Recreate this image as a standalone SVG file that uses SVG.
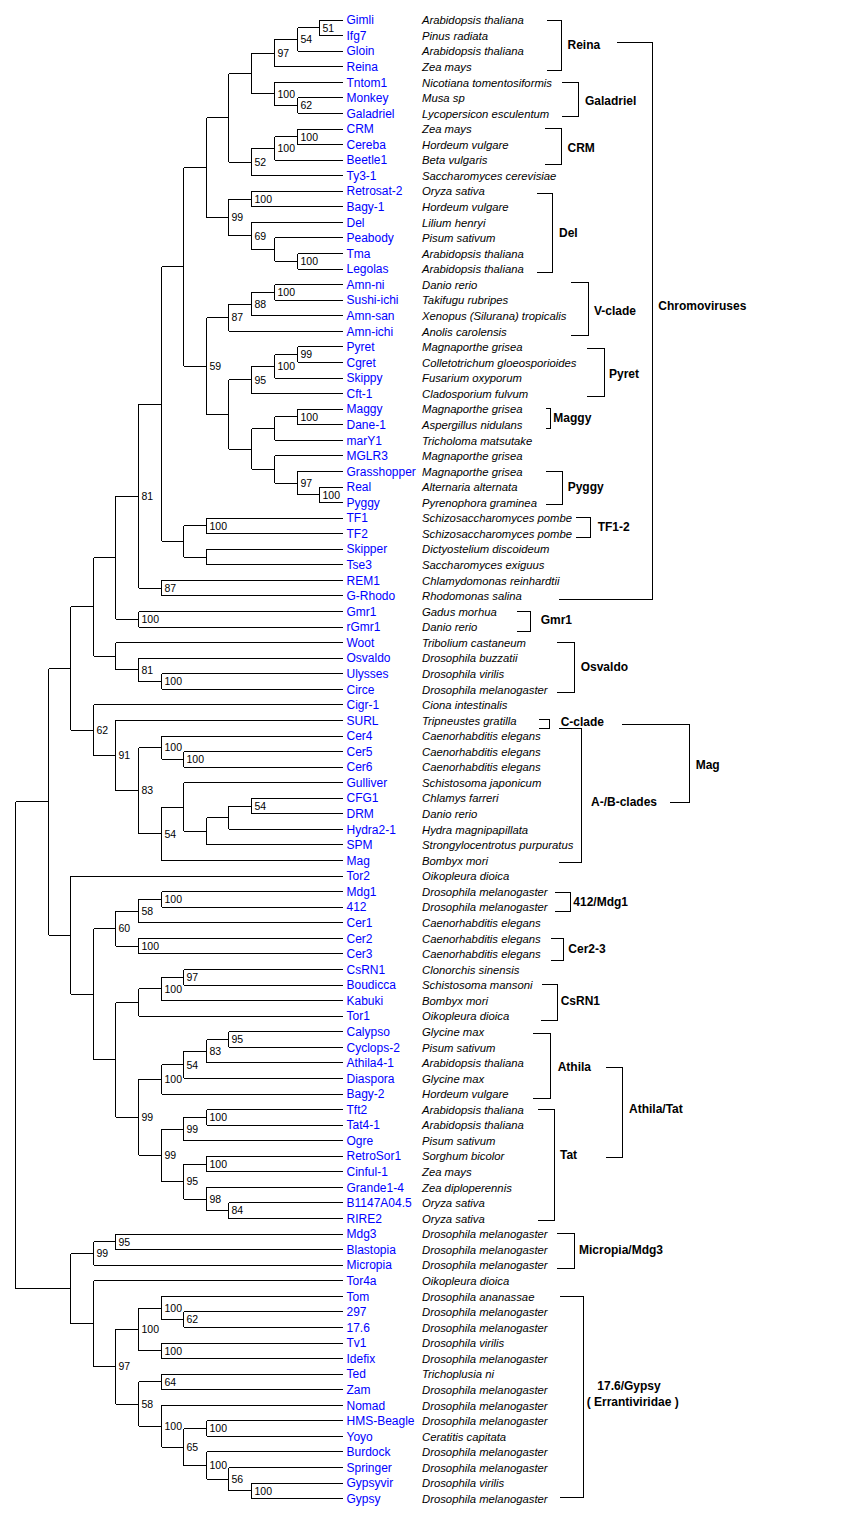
<svg xmlns="http://www.w3.org/2000/svg" width="842" height="1527" viewBox="0 0 842 1527">
<style>
.ln{fill:none;stroke:#000;stroke-width:1;shape-rendering:crispEdges}
.n{font-family:"Liberation Sans",Arial,sans-serif;font-size:12px;fill:#0000ff}
.s{font-family:"Liberation Sans",Arial,sans-serif;font-size:11.3px;font-style:italic;fill:#000}
.b{font-family:"Liberation Sans",Arial,sans-serif;font-size:10.5px;fill:#000}
.c{font-family:"Liberation Sans",Arial,sans-serif;font-size:12px;font-weight:bold;fill:#000}
</style>
<rect width="842" height="1527" fill="#fff"/>
<g id="connectors" class="ln">
<path d="M319.5 20V35.6 M319.5 20H343 M319.5 35.6H343
M297.5 27.8V51.1 M297.5 27.8H319.5 M297.5 51.1H343
M274.5 39.45V66.7 M274.5 39.45H297.5 M274.5 66.7H343
M297.5 97.8V113.4 M297.5 97.8H343 M297.5 113.4H343
M274.5 82.3V105.6 M274.5 82.3H343 M274.5 105.6H297.5
M251.5 53.1V93.95 M251.5 53.1H274.5 M251.5 93.95H274.5
M297.5 129V144.5 M297.5 129H343 M297.5 144.5H343
M274.5 136.75V160.1 M274.5 136.75H297.5 M274.5 160.1H343
M251.5 148.4V175.7 M251.5 148.4H274.5 M251.5 175.7H343
M228.5 73.5V162.05 M228.5 73.5H251.5 M228.5 162.05H251.5
M251.5 191.2V206.8 M251.5 191.2H343 M251.5 206.8H343
M297.5 253.5V269 M297.5 253.5H343 M297.5 269H343
M274.5 237.9V261.25 M274.5 237.9H343 M274.5 261.25H297.5
M251.5 222.3V249.6 M251.5 222.3H343 M251.5 249.6H274.5
M228.5 199V235.95 M228.5 199H251.5 M228.5 235.95H251.5
M206.5 117.8V217.5 M206.5 117.8H228.5 M206.5 217.5H228.5
M274.5 284.6V300.2 M274.5 284.6H343 M274.5 300.2H343
M251.5 292.4V315.7 M251.5 292.4H274.5 M251.5 315.7H343
M228.5 304.05V331.3 M228.5 304.05H251.5 M228.5 331.3H343
M297.5 346.9V362.4 M297.5 346.9H343 M297.5 362.4H343
M274.5 354.65V378 M274.5 354.65H297.5 M274.5 378H343
M251.5 366.3V393.6 M251.5 366.3H274.5 M251.5 393.6H343
M297.5 409.1V424.7 M297.5 409.1H343 M297.5 424.7H343
M274.5 416.9V440.3 M274.5 416.9H297.5 M274.5 440.3H343
M319.5 487V502.5 M319.5 487H343 M319.5 502.5H343
M297.5 471.4V494.75 M297.5 471.4H343 M297.5 494.75H319.5
M274.5 455.8V483.1 M274.5 455.8H343 M274.5 483.1H297.5
M251.5 428.6V469.45 M251.5 428.6H274.5 M251.5 469.45H274.5
M228.5 379.95V449 M228.5 379.95H251.5 M228.5 449H251.5
M206.5 317.7V414.5 M206.5 317.7H228.5 M206.5 414.5H228.5
M183.5 167.65V366.1 M183.5 167.65H206.5 M183.5 366.1H206.5
M206.5 518.1V533.6 M206.5 518.1H343 M206.5 533.6H343
M206.5 549.2V564.8 M206.5 549.2H343 M206.5 564.8H343
M183.5 525.85V557 M183.5 525.85H206.5 M183.5 557H206.5
M161.5 266.9V541.4 M161.5 266.9H183.5 M161.5 541.4H183.5
M161.5 580.3V595.9 M161.5 580.3H343 M161.5 595.9H343
M138.5 404.15V588.1 M138.5 404.15H161.5 M138.5 588.1H161.5
M138.5 611.5V627 M138.5 611.5H343 M138.5 627H343
M115.5 496.1V619.25 M115.5 496.1H138.5 M115.5 619.25H138.5
M161.5 673.7V689.3 M161.5 673.7H343 M161.5 689.3H343
M138.5 658.2V681.5 M138.5 658.2H343 M138.5 681.5H161.5
M115.5 642.6V669.85 M115.5 642.6H343 M115.5 669.85H138.5
M93.5 557.7V656.2 M93.5 557.7H115.5 M93.5 656.2H115.5
M183.5 751.6V767.1 M183.5 751.6H343 M183.5 767.1H343
M161.5 736V759.35 M161.5 736H343 M161.5 759.35H183.5
M251.5 798.2V813.8 M251.5 798.2H343 M251.5 813.8H343
M228.5 806V829.4 M228.5 806H251.5 M228.5 829.4H343
M206.5 817.7V844.9 M206.5 817.7H228.5 M206.5 844.9H343
M183.5 782.7V831.3 M183.5 782.7H343 M183.5 831.3H206.5
M161.5 807V860.5 M161.5 807H183.5 M161.5 860.5H343
M138.5 747.7V833.75 M138.5 747.7H161.5 M138.5 833.75H161.5
M115.5 720.4V790.7 M115.5 720.4H343 M115.5 790.7H138.5
M93.5 704.9V755.55 M93.5 704.9H343 M93.5 755.55H115.5
M70.5 606.95V730.2 M70.5 606.95H93.5 M70.5 730.2H93.5
M161.5 891.6V907.2 M161.5 891.6H343 M161.5 907.2H343
M138.5 899.4V922.8 M138.5 899.4H161.5 M138.5 922.8H343
M138.5 938.3V953.9 M138.5 938.3H343 M138.5 953.9H343
M115.5 911.1V946.1 M115.5 911.1H138.5 M115.5 946.1H138.5
M183.5 969.5V985 M183.5 969.5H343 M183.5 985H343
M161.5 977.25V1000.6 M161.5 977.25H183.5 M161.5 1000.6H343
M138.5 988.9V1016.1 M138.5 988.9H161.5 M138.5 1016.1H343
M228.5 1031.7V1047.3 M228.5 1031.7H343 M228.5 1047.3H343
M206.5 1039.5V1062.8 M206.5 1039.5H228.5 M206.5 1062.8H343
M183.5 1051.15V1078.4 M183.5 1051.15H206.5 M183.5 1078.4H343
M161.5 1064.8V1094 M161.5 1064.8H183.5 M161.5 1094H343
M206.5 1109.5V1125.1 M206.5 1109.5H343 M206.5 1125.1H343
M183.5 1117.3V1140.7 M183.5 1117.3H206.5 M183.5 1140.7H343
M206.5 1156.2V1171.8 M206.5 1156.2H343 M206.5 1171.8H343
M228.5 1202.9V1218.5 M228.5 1202.9H343 M228.5 1218.5H343
M206.5 1187.4V1210.7 M206.5 1187.4H343 M206.5 1210.7H228.5
M183.5 1164V1199.05 M183.5 1164H206.5 M183.5 1199.05H206.5
M161.5 1129V1181.5 M161.5 1129H183.5 M161.5 1181.5H183.5
M138.5 1079.4V1155.25 M138.5 1079.4H161.5 M138.5 1155.25H161.5
M115.5 1002.5V1117.3 M115.5 1002.5H138.5 M115.5 1117.3H138.5
M93.5 928.6V1059.9 M93.5 928.6H115.5 M93.5 1059.9H115.5
M70.5 876.1V994.25 M70.5 876.1H343 M70.5 994.25H93.5
M48.5 668.6V935.2 M48.5 668.6H70.5 M48.5 935.2H70.5
M115.5 1234V1249.6 M115.5 1234H343 M115.5 1249.6H343
M93.5 1241.8V1265.2 M93.5 1241.8H115.5 M93.5 1265.2H343
M183.5 1311.9V1327.4 M183.5 1311.9H343 M183.5 1327.4H343
M161.5 1296.3V1319.65 M161.5 1296.3H343 M161.5 1319.65H183.5
M161.5 1343V1358.6 M161.5 1343H343 M161.5 1358.6H343
M138.5 1308V1350.8 M138.5 1308H161.5 M138.5 1350.8H161.5
M161.5 1374.1V1389.7 M161.5 1374.1H343 M161.5 1389.7H343
M206.5 1420.8V1436.4 M206.5 1420.8H343 M206.5 1436.4H343
M251.5 1483.1V1498.7 M251.5 1483.1H343 M251.5 1498.7H343
M228.5 1467.5V1490.9 M228.5 1467.5H343 M228.5 1490.9H251.5
M206.5 1451.9V1479.2 M206.5 1451.9H343 M206.5 1479.2H228.5
M183.5 1428.6V1465.55 M183.5 1428.6H206.5 M183.5 1465.55H206.5
M161.5 1405.3V1447.1 M161.5 1405.3H343 M161.5 1447.1H183.5
M138.5 1381.9V1426.2 M138.5 1381.9H161.5 M138.5 1426.2H161.5
M115.5 1329.4V1404.05 M115.5 1329.4H138.5 M115.5 1404.05H138.5
M93.5 1280.7V1366.7 M93.5 1280.7H343 M93.5 1366.7H115.5
M70.5 1253.5V1323.7 M70.5 1253.5H93.5 M70.5 1323.7H93.5
M15.5 801.9V1288.6 M15.5 801.9H48.5 M15.5 1288.6H70.5"/>
</g>
<g id="bootstrap" class="b" transform="translate(0,3.8)">
<text x="322.5" y="27.8">51</text><text x="300.5" y="39.45">54</text><text x="277.5" y="53.1">97</text>
<text x="300.5" y="105.6">62</text><text x="277.5" y="93.95">100</text><text x="300.5" y="136.75">100</text>
<text x="277.5" y="148.4">100</text><text x="254.5" y="162.05">52</text><text x="254.5" y="199">100</text>
<text x="300.5" y="261.25">100</text><text x="254.5" y="235.95">69</text><text x="231.5" y="217.5">99</text>
<text x="277.5" y="292.4">100</text><text x="254.5" y="304.05">88</text><text x="231.5" y="317.7">87</text>
<text x="300.5" y="354.65">99</text><text x="277.5" y="366.3">100</text><text x="254.5" y="379.95">95</text>
<text x="300.5" y="416.9">100</text><text x="322.5" y="494.75">100</text><text x="300.5" y="483.1">97</text>
<text x="209.5" y="366.1">59</text><text x="209.5" y="525.85">100</text><text x="164.5" y="588.1">87</text>
<text x="141.5" y="496.1">81</text><text x="141.5" y="619.25">100</text><text x="164.5" y="681.5">100</text>
<text x="141.5" y="669.85">81</text><text x="186.5" y="759.35">100</text><text x="164.5" y="747.7">100</text>
<text x="254.5" y="806">54</text><text x="164.5" y="833.75">54</text><text x="141.5" y="790.7">83</text>
<text x="118.5" y="755.55">91</text><text x="96.5" y="730.2">62</text><text x="164.5" y="899.4">100</text>
<text x="141.5" y="911.1">58</text><text x="141.5" y="946.1">100</text><text x="118.5" y="928.6">60</text>
<text x="186.5" y="977.25">97</text><text x="164.5" y="988.9">100</text><text x="231.5" y="1039.5">95</text>
<text x="209.5" y="1051.15">83</text><text x="186.5" y="1064.8">54</text><text x="164.5" y="1079.4">100</text>
<text x="209.5" y="1117.3">100</text><text x="186.5" y="1129">99</text><text x="209.5" y="1164">100</text>
<text x="231.5" y="1210.7">84</text><text x="209.5" y="1199.05">98</text><text x="186.5" y="1181.5">95</text>
<text x="164.5" y="1155.25">99</text><text x="141.5" y="1117.3">99</text><text x="118.5" y="1241.8">95</text>
<text x="96.5" y="1253.5">99</text><text x="186.5" y="1319.65">62</text><text x="164.5" y="1308">100</text>
<text x="164.5" y="1350.8">100</text><text x="141.5" y="1329.4">100</text><text x="164.5" y="1381.9">64</text>
<text x="209.5" y="1428.6">100</text><text x="254.5" y="1490.9">100</text><text x="231.5" y="1479.2">56</text>
<text x="209.5" y="1465.55">100</text><text x="186.5" y="1447.1">65</text><text x="164.5" y="1426.2">100</text>
<text x="141.5" y="1404.05">58</text><text x="118.5" y="1366.7">97</text>
</g>
<g id="leaves" transform="translate(0,4.3)">
<g id="leaf-Gimli"><text class="n" x="346.5" y="20">Gimli</text><text class="s" x="422" y="20">Arabidopsis thaliana</text></g>
<g id="leaf-Ifg7"><text class="n" x="346.5" y="35.6">Ifg7</text><text class="s" x="422" y="35.6">Pinus radiata</text></g>
<g id="leaf-Gloin"><text class="n" x="346.5" y="51.1">Gloin</text><text class="s" x="422" y="51.1">Arabidopsis thaliana</text></g>
<g id="leaf-Reina"><text class="n" x="346.5" y="66.7">Reina</text><text class="s" x="422" y="66.7">Zea mays</text></g>
<g id="leaf-Tntom1"><text class="n" x="346.5" y="82.3">Tntom1</text><text class="s" x="422" y="82.3">Nicotiana tomentosiformis</text></g>
<g id="leaf-Monkey"><text class="n" x="346.5" y="97.8">Monkey</text><text class="s" x="422" y="97.8">Musa sp</text></g>
<g id="leaf-Galadriel"><text class="n" x="346.5" y="113.4">Galadriel</text><text class="s" x="422" y="113.4">Lycopersicon esculentum</text></g>
<g id="leaf-CRM"><text class="n" x="346.5" y="129">CRM</text><text class="s" x="422" y="129">Zea mays</text></g>
<g id="leaf-Cereba"><text class="n" x="346.5" y="144.5">Cereba</text><text class="s" x="422" y="144.5">Hordeum vulgare</text></g>
<g id="leaf-Beetle1"><text class="n" x="346.5" y="160.1">Beetle1</text><text class="s" x="422" y="160.1">Beta vulgaris</text></g>
<g id="leaf-Ty3-1"><text class="n" x="346.5" y="175.7">Ty3-1</text><text class="s" x="422" y="175.7">Saccharomyces cerevisiae</text></g>
<g id="leaf-Retrosat-2"><text class="n" x="346.5" y="191.2">Retrosat-2</text><text class="s" x="422" y="191.2">Oryza sativa</text></g>
<g id="leaf-Bagy-1"><text class="n" x="346.5" y="206.8">Bagy-1</text><text class="s" x="422" y="206.8">Hordeum vulgare</text></g>
<g id="leaf-Del"><text class="n" x="346.5" y="222.3">Del</text><text class="s" x="422" y="222.3">Lilium henryi</text></g>
<g id="leaf-Peabody"><text class="n" x="346.5" y="237.9">Peabody</text><text class="s" x="422" y="237.9">Pisum sativum</text></g>
<g id="leaf-Tma"><text class="n" x="346.5" y="253.5">Tma</text><text class="s" x="422" y="253.5">Arabidopsis thaliana</text></g>
<g id="leaf-Legolas"><text class="n" x="346.5" y="269">Legolas</text><text class="s" x="422" y="269">Arabidopsis thaliana</text></g>
<g id="leaf-Amn-ni"><text class="n" x="346.5" y="284.6">Amn-ni</text><text class="s" x="422" y="284.6">Danio rerio</text></g>
<g id="leaf-Sushi-ichi"><text class="n" x="346.5" y="300.2">Sushi-ichi</text><text class="s" x="422" y="300.2">Takifugu rubripes</text></g>
<g id="leaf-Amn-san"><text class="n" x="346.5" y="315.7">Amn-san</text><text class="s" x="422" y="315.7">Xenopus (Silurana) tropicalis</text></g>
<g id="leaf-Amn-ichi"><text class="n" x="346.5" y="331.3">Amn-ichi</text><text class="s" x="422" y="331.3">Anolis carolensis</text></g>
<g id="leaf-Pyret"><text class="n" x="346.5" y="346.9">Pyret</text><text class="s" x="422" y="346.9">Magnaporthe grisea</text></g>
<g id="leaf-Cgret"><text class="n" x="346.5" y="362.4">Cgret</text><text class="s" x="422" y="362.4">Colletotrichum gloeosporioides</text></g>
<g id="leaf-Skippy"><text class="n" x="346.5" y="378">Skippy</text><text class="s" x="422" y="378">Fusarium oxyporum</text></g>
<g id="leaf-Cft-1"><text class="n" x="346.5" y="393.6">Cft-1</text><text class="s" x="422" y="393.6">Cladosporium fulvum</text></g>
<g id="leaf-Maggy"><text class="n" x="346.5" y="409.1">Maggy</text><text class="s" x="422" y="409.1">Magnaporthe grisea</text></g>
<g id="leaf-Dane-1"><text class="n" x="346.5" y="424.7">Dane-1</text><text class="s" x="422" y="424.7">Aspergillus nidulans</text></g>
<g id="leaf-marY1"><text class="n" x="346.5" y="440.3">marY1</text><text class="s" x="422" y="440.3">Tricholoma matsutake</text></g>
<g id="leaf-MGLR3"><text class="n" x="346.5" y="455.8">MGLR3</text><text class="s" x="422" y="455.8">Magnaporthe grisea</text></g>
<g id="leaf-Grasshopper"><text class="n" x="346.5" y="471.4">Grasshopper</text><text class="s" x="422" y="471.4">Magnaporthe grisea</text></g>
<g id="leaf-Real"><text class="n" x="346.5" y="487">Real</text><text class="s" x="422" y="487">Alternaria alternata</text></g>
<g id="leaf-Pyggy"><text class="n" x="346.5" y="502.5">Pyggy</text><text class="s" x="422" y="502.5">Pyrenophora graminea</text></g>
<g id="leaf-TF1"><text class="n" x="346.5" y="518.1">TF1</text><text class="s" x="422" y="518.1">Schizosaccharomyces pombe</text></g>
<g id="leaf-TF2"><text class="n" x="346.5" y="533.6">TF2</text><text class="s" x="422" y="533.6">Schizosaccharomyces pombe</text></g>
<g id="leaf-Skipper"><text class="n" x="346.5" y="549.2">Skipper</text><text class="s" x="422" y="549.2">Dictyostelium discoideum</text></g>
<g id="leaf-Tse3"><text class="n" x="346.5" y="564.8">Tse3</text><text class="s" x="422" y="564.8">Saccharomyces exiguus</text></g>
<g id="leaf-REM1"><text class="n" x="346.5" y="580.3">REM1</text><text class="s" x="422" y="580.3">Chlamydomonas reinhardtii</text></g>
<g id="leaf-G-Rhodo"><text class="n" x="346.5" y="595.9">G-Rhodo</text><text class="s" x="422" y="595.9">Rhodomonas salina</text></g>
<g id="leaf-Gmr1"><text class="n" x="346.5" y="611.5">Gmr1</text><text class="s" x="422" y="611.5">Gadus morhua</text></g>
<g id="leaf-rGmr1"><text class="n" x="346.5" y="627">rGmr1</text><text class="s" x="422" y="627">Danio rerio</text></g>
<g id="leaf-Woot"><text class="n" x="346.5" y="642.6">Woot</text><text class="s" x="422" y="642.6">Tribolium castaneum</text></g>
<g id="leaf-Osvaldo"><text class="n" x="346.5" y="658.2">Osvaldo</text><text class="s" x="422" y="658.2">Drosophila buzzatii</text></g>
<g id="leaf-Ulysses"><text class="n" x="346.5" y="673.7">Ulysses</text><text class="s" x="422" y="673.7">Drosophila virilis</text></g>
<g id="leaf-Circe"><text class="n" x="346.5" y="689.3">Circe</text><text class="s" x="422" y="689.3">Drosophila melanogaster</text></g>
<g id="leaf-Cigr-1"><text class="n" x="346.5" y="704.9">Cigr-1</text><text class="s" x="422" y="704.9">Ciona intestinalis</text></g>
<g id="leaf-SURL"><text class="n" x="346.5" y="720.4">SURL</text><text class="s" x="422" y="720.4">Tripneustes gratilla</text></g>
<g id="leaf-Cer4"><text class="n" x="346.5" y="736">Cer4</text><text class="s" x="422" y="736">Caenorhabditis elegans</text></g>
<g id="leaf-Cer5"><text class="n" x="346.5" y="751.6">Cer5</text><text class="s" x="422" y="751.6">Caenorhabditis elegans</text></g>
<g id="leaf-Cer6"><text class="n" x="346.5" y="767.1">Cer6</text><text class="s" x="422" y="767.1">Caenorhabditis elegans</text></g>
<g id="leaf-Gulliver"><text class="n" x="346.5" y="782.7">Gulliver</text><text class="s" x="422" y="782.7">Schistosoma japonicum</text></g>
<g id="leaf-CFG1"><text class="n" x="346.5" y="798.2">CFG1</text><text class="s" x="422" y="798.2">Chlamys farreri</text></g>
<g id="leaf-DRM"><text class="n" x="346.5" y="813.8">DRM</text><text class="s" x="422" y="813.8">Danio rerio</text></g>
<g id="leaf-Hydra2-1"><text class="n" x="346.5" y="829.4">Hydra2-1</text><text class="s" x="422" y="829.4">Hydra magnipapillata</text></g>
<g id="leaf-SPM"><text class="n" x="346.5" y="844.9">SPM</text><text class="s" x="422" y="844.9">Strongylocentrotus purpuratus</text></g>
<g id="leaf-Mag"><text class="n" x="346.5" y="860.5">Mag</text><text class="s" x="422" y="860.5">Bombyx mori</text></g>
<g id="leaf-Tor2"><text class="n" x="346.5" y="876.1">Tor2</text><text class="s" x="422" y="876.1">Oikopleura dioica</text></g>
<g id="leaf-Mdg1"><text class="n" x="346.5" y="891.6">Mdg1</text><text class="s" x="422" y="891.6">Drosophila melanogaster</text></g>
<g id="leaf-412"><text class="n" x="346.5" y="907.2">412</text><text class="s" x="422" y="907.2">Drosophila melanogaster</text></g>
<g id="leaf-Cer1"><text class="n" x="346.5" y="922.8">Cer1</text><text class="s" x="422" y="922.8">Caenorhabditis elegans</text></g>
<g id="leaf-Cer2"><text class="n" x="346.5" y="938.3">Cer2</text><text class="s" x="422" y="938.3">Caenorhabditis elegans</text></g>
<g id="leaf-Cer3"><text class="n" x="346.5" y="953.9">Cer3</text><text class="s" x="422" y="953.9">Caenorhabditis elegans</text></g>
<g id="leaf-CsRN1"><text class="n" x="346.5" y="969.5">CsRN1</text><text class="s" x="422" y="969.5">Clonorchis sinensis</text></g>
<g id="leaf-Boudicca"><text class="n" x="346.5" y="985">Boudicca</text><text class="s" x="422" y="985">Schistosoma mansoni</text></g>
<g id="leaf-Kabuki"><text class="n" x="346.5" y="1000.6">Kabuki</text><text class="s" x="422" y="1000.6">Bombyx mori</text></g>
<g id="leaf-Tor1"><text class="n" x="346.5" y="1016.1">Tor1</text><text class="s" x="422" y="1016.1">Oikopleura dioica</text></g>
<g id="leaf-Calypso"><text class="n" x="346.5" y="1031.7">Calypso</text><text class="s" x="422" y="1031.7">Glycine max</text></g>
<g id="leaf-Cyclops-2"><text class="n" x="346.5" y="1047.3">Cyclops-2</text><text class="s" x="422" y="1047.3">Pisum sativum</text></g>
<g id="leaf-Athila4-1"><text class="n" x="346.5" y="1062.8">Athila4-1</text><text class="s" x="422" y="1062.8">Arabidopsis thaliana</text></g>
<g id="leaf-Diaspora"><text class="n" x="346.5" y="1078.4">Diaspora</text><text class="s" x="422" y="1078.4">Glycine max</text></g>
<g id="leaf-Bagy-2"><text class="n" x="346.5" y="1094">Bagy-2</text><text class="s" x="422" y="1094">Hordeum vulgare</text></g>
<g id="leaf-Tft2"><text class="n" x="346.5" y="1109.5">Tft2</text><text class="s" x="422" y="1109.5">Arabidopsis thaliana</text></g>
<g id="leaf-Tat4-1"><text class="n" x="346.5" y="1125.1">Tat4-1</text><text class="s" x="422" y="1125.1">Arabidopsis thaliana</text></g>
<g id="leaf-Ogre"><text class="n" x="346.5" y="1140.7">Ogre</text><text class="s" x="422" y="1140.7">Pisum sativum</text></g>
<g id="leaf-RetroSor1"><text class="n" x="346.5" y="1156.2">RetroSor1</text><text class="s" x="422" y="1156.2">Sorghum bicolor</text></g>
<g id="leaf-Cinful-1"><text class="n" x="346.5" y="1171.8">Cinful-1</text><text class="s" x="422" y="1171.8">Zea mays</text></g>
<g id="leaf-Grande1-4"><text class="n" x="346.5" y="1187.4">Grande1-4</text><text class="s" x="422" y="1187.4">Zea diploperennis</text></g>
<g id="leaf-B1147A04.5"><text class="n" x="346.5" y="1202.9">B1147A04.5</text><text class="s" x="422" y="1202.9">Oryza sativa</text></g>
<g id="leaf-RIRE2"><text class="n" x="346.5" y="1218.5">RIRE2</text><text class="s" x="422" y="1218.5">Oryza sativa</text></g>
<g id="leaf-Mdg3"><text class="n" x="346.5" y="1234">Mdg3</text><text class="s" x="422" y="1234">Drosophila melanogaster</text></g>
<g id="leaf-Blastopia"><text class="n" x="346.5" y="1249.6">Blastopia</text><text class="s" x="422" y="1249.6">Drosophila melanogaster</text></g>
<g id="leaf-Micropia"><text class="n" x="346.5" y="1265.2">Micropia</text><text class="s" x="422" y="1265.2">Drosophila melanogaster</text></g>
<g id="leaf-Tor4a"><text class="n" x="346.5" y="1280.7">Tor4a</text><text class="s" x="422" y="1280.7">Oikopleura dioica</text></g>
<g id="leaf-Tom"><text class="n" x="346.5" y="1296.3">Tom</text><text class="s" x="422" y="1296.3">Drosophila ananassae</text></g>
<g id="leaf-297"><text class="n" x="346.5" y="1311.9">297</text><text class="s" x="422" y="1311.9">Drosophila melanogaster</text></g>
<g id="leaf-17.6"><text class="n" x="346.5" y="1327.4">17.6</text><text class="s" x="422" y="1327.4">Drosophila melanogaster</text></g>
<g id="leaf-Tv1"><text class="n" x="346.5" y="1343">Tv1</text><text class="s" x="422" y="1343">Drosophila virilis</text></g>
<g id="leaf-Idefix"><text class="n" x="346.5" y="1358.6">Idefix</text><text class="s" x="422" y="1358.6">Drosophila melanogaster</text></g>
<g id="leaf-Ted"><text class="n" x="346.5" y="1374.1">Ted</text><text class="s" x="422" y="1374.1">Trichoplusia ni</text></g>
<g id="leaf-Zam"><text class="n" x="346.5" y="1389.7">Zam</text><text class="s" x="422" y="1389.7">Drosophila melanogaster</text></g>
<g id="leaf-Nomad"><text class="n" x="346.5" y="1405.3">Nomad</text><text class="s" x="422" y="1405.3">Drosophila melanogaster</text></g>
<g id="leaf-HMS-Beagle"><text class="n" x="346.5" y="1420.8">HMS-Beagle</text><text class="s" x="422" y="1420.8">Drosophila melanogaster</text></g>
<g id="leaf-Yoyo"><text class="n" x="346.5" y="1436.4">Yoyo</text><text class="s" x="422" y="1436.4">Ceratitis capitata</text></g>
<g id="leaf-Burdock"><text class="n" x="346.5" y="1451.9">Burdock</text><text class="s" x="422" y="1451.9">Drosophila melanogaster</text></g>
<g id="leaf-Springer"><text class="n" x="346.5" y="1467.5">Springer</text><text class="s" x="422" y="1467.5">Drosophila melanogaster</text></g>
<g id="leaf-Gypsyvir"><text class="n" x="346.5" y="1483.1">Gypsyvir</text><text class="s" x="422" y="1483.1">Drosophila virilis</text></g>
<g id="leaf-Gypsy"><text class="n" x="346.5" y="1498.7">Gypsy</text><text class="s" x="422" y="1498.7">Drosophila melanogaster</text></g>
</g>
<g id="clades">
<g id="clade-Reina"><path class="ln" d="M546.5 20.5H561.5V70.5H546.5"/><text class="c" x="567.5" y="49.3">Reina</text></g>
<g id="clade-Galadriel"><path class="ln" d="M561.5 82.5H578.5V116.5H561.5"/><text class="c" x="585" y="105">Galadriel</text></g>
<g id="clade-CRM"><path class="ln" d="M544.5 128.5H561.5V164.5H544.5"/><text class="c" x="567.5" y="152">CRM</text></g>
<g id="clade-Del"><path class="ln" d="M536.5 193.5H552.5V272.5H536.5"/><text class="c" x="559" y="237.3">Del</text></g>
<g id="clade-V"><path class="ln" d="M570.5 282.5H588.5V335.5H570.5"/><text class="c" x="594" y="315.3">V-clade</text></g>
<g id="clade-Pyret"><path class="ln" d="M586.5 348.5H604.5V396.5H586.5"/><text class="c" x="609" y="378.3">Pyret</text></g>
<g id="clade-Maggy"><path class="ln" d="M545.5 408.5H550.5V428.5H545.5"/><text class="c" x="553.3" y="422">Maggy</text></g>
<g id="clade-Pyggy"><path class="ln" d="M545.5 471.5H562.5V504.5H545.5"/><text class="c" x="567.7" y="491">Pyggy</text></g>
<g id="clade-TF1-2"><path class="ln" d="M575.5 517.5H590.5V537.5H575.5"/><text class="c" x="597.7" y="531">TF1-2</text></g>
<g id="clade-Chromoviruses"><path class="ln" d="M616.5 42.5H652.5V599.5H558.5"/><text class="c" x="658.3" y="309.8">Chromoviruses</text></g>
<g id="clade-Gmr1"><path class="ln" d="M516.5 611.5H530.5V631.5H516.5"/><text class="c" x="540.7" y="624.3">Gmr1</text></g>
<g id="clade-Osvaldo"><path class="ln" d="M556.5 642.5H574.5V692.5H556.5"/><text class="c" x="580.7" y="671">Osvaldo</text></g>
<g id="clade-C"><path class="ln" d="M538.5 719.5H549.5V728.5H538.5"/><text class="c" x="560.7" y="726">C-clade</text></g>
<g id="clade-AB"><path class="ln" d="M558.5 728.5H581.5V862.5H558.5"/><text class="c" x="591" y="805.6">A-/B-clades</text></g>
<g id="clade-Mag"><path class="ln" d="M621.5 724.5H689.5V802.5H669.5"/><text class="c" x="695.7" y="769">Mag</text></g>
<g id="clade-412"><path class="ln" d="M554.5 892.5H570.5V911.5H554.5"/><text class="c" x="573.3" y="906">412/Mdg1</text></g>
<g id="clade-Cer2-3"><path class="ln" d="M550.5 938.5H563.5V960.5H550.5"/><text class="c" x="568.3" y="952.6">Cer2-3</text></g>
<g id="clade-CsRN1"><path class="ln" d="M541.5 984.5H557.5V1020.5H540.5"/><text class="c" x="560.7" y="1005">CsRN1</text></g>
<g id="clade-Athila"><path class="ln" d="M532.5 1033.5H550.5V1098.5H532.5"/><text class="c" x="557.7" y="1071">Athila</text></g>
<g id="clade-Tat"><path class="ln" d="M537.5 1109.5H554.5V1220.5H537.5"/><text class="c" x="560" y="1158.6">Tat</text></g>
<g id="clade-AthilaTat"><path class="ln" d="M605.5 1067.5H622.5V1157.5H605.5"/><text class="c" x="629" y="1113">Athila/Tat</text></g>
<g id="clade-Micropia"><path class="ln" d="M556.5 1233.5H574.5V1268.5H556.5"/><text class="c" x="579" y="1253.6">Micropia/Mdg3</text></g>
<g id="clade-Gypsy"><path class="ln" d="M559.5 1296.5H583.5V1497.5H559.5"/><text class="c" x="597.3" y="1390.3">17.6/Gypsy</text><text class="c" x="586.7" y="1406">( Errantiviridae )</text></g>
</g>
</svg>
